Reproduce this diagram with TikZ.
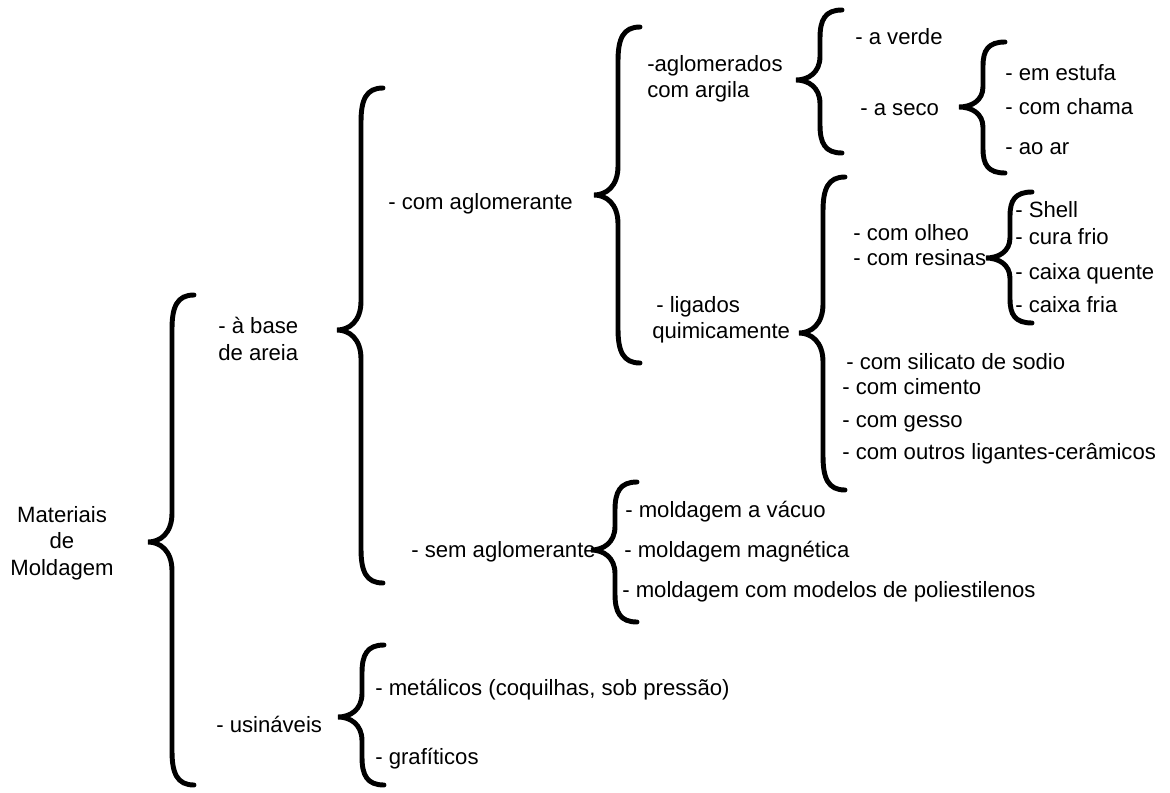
\documentclass[tikz,border=0pt]{standalone}
\usepackage{fontspec}
\setmainfont{Liberation Sans}
% curly bracket: x of the stem, top, tip, bottom, size of the curls
\newcommand{\chave}[5]{%
  \draw[curly] (#1+22,#2) .. controls (#1+5,#2) and (#1,#2+0.35*#5) .. (#1,#2+#5)
    -- (#1,#3-0.85*#5) .. controls (#1,#3-0.25*#5) and (#1-12,#3) .. (#1-24,#3)
    .. controls (#1-12,#3) and (#1,#3+0.25*#5) .. (#1,#3+0.85*#5)
    -- (#1,#4-#5) .. controls (#1,#4-0.35*#5) and (#1+5,#4) .. (#1+22,#4);}

\begin{document}
\begin{tikzpicture}[x=0.75pt,y=-0.75pt,
  curly/.style={line width=3.7pt,line cap=round},
  item/.style={anchor=base west,inner sep=0pt},
  block/.style={anchor=west,align=left,inner sep=0pt},
  every node/.style={font=\fontsize{16.6}{19.8}\selectfont}]
\useasboundingbox (0,0) rectangle (1170,792);

% root
\node[align=center,inner sep=0pt] (mat) at (62,543) {Materiais\\de\\Moldagem};
\chave{172}{295}{542}{785}{34}

% first level
\node[block] (areia) at (218,339) {- à base\\de areia};
\node[item] (usin) at (216,732) {- usináveis};
\chave{361}{88}{330}{583}{34}
\chave{362}{645}{717}{785}{28}

% base de areia
\node[item] (com) at (388,209) {- com aglomerante};
\node[item] (sem) at (411,557) {- sem aglomerante};
\chave{618}{27}{195}{363}{34}
\chave{615}{482}{550}{622}{28}

% com aglomerante
\node[block] (argila) at (647,79) {-aglomerados\\com argila};
\node[block] (quim) at (652,320) {\hspace{3pt}- ligados\\quimicamente};
\chave{820}{10}{80}{153}{28}
\chave{823}{177}{333}{490}{34}

% aglomerados com argila
\node[item] (verde) at (855,45) {- a verde};
\node[item] (seco) at (860,115) {- a seco};
\chave{983}{42}{107}{173}{24}
\node[item] (estufa) at (1005,80) {- em estufa};
\node[item] (chama) at (1005,114) {- com chama};
\node[item] (ar) at (1005,154) {- ao ar};

% ligados quimicamente
\node[item] (olheo) at (853,240) {- com olheo};
\node[item] (resinas) at (853,265) {- com resinas};
\chave{1010}{192}{258}{323}{24}
\node[item] (shell) at (1015,217) {- Shell};
\node[item] (cura) at (1015,244) {- cura frio};
\node[item] (quente) at (1015,279) {- caixa quente};
\node[item] (fria) at (1015,312) {- caixa fria};
\node[item] (silicato) at (846,369) {- com silicato de sodio};
\node[item] (cimento) at (842,394) {- com cimento};
\node[item] (gesso) at (842,427) {- com gesso};
\node[item] (outros) at (842,459) {- com outros ligantes-cerâmicos};

% sem aglomerante
\node[item] (vacuo) at (625,517) {- moldagem a vácuo};
\node[item] (magn) at (624,557) {- moldagem magnética};
\node[item] (polie) at (622,597) {- moldagem com modelos de poliestilenos};

% usinaveis
\node[item] (metal) at (375,695) {- metálicos (coquilhas, sob pressão)};
\node[item] (graf) at (375,764) {- grafíticos};
\end{tikzpicture}
\end{document}
